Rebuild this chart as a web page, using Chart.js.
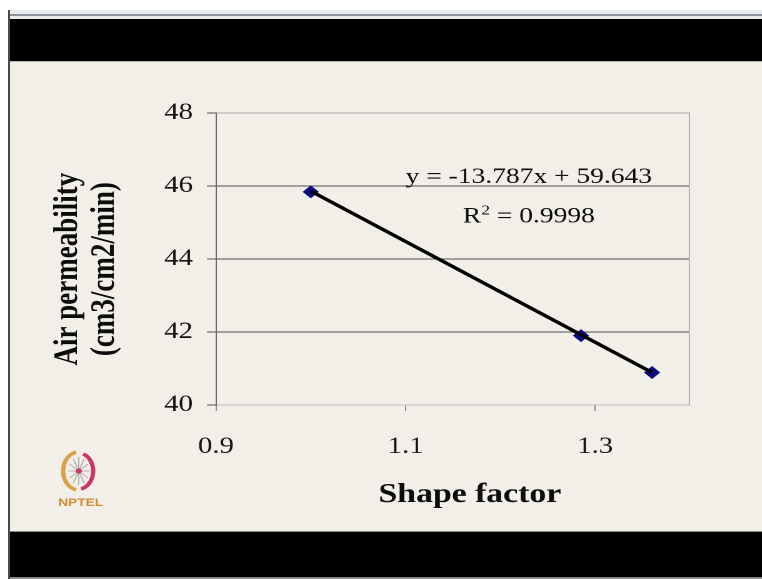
<!DOCTYPE html>
<html>
<head>
<meta charset="utf-8">
<script src="https://cdn.jsdelivr.net/npm/chart.js@4/dist/chart.umd.min.js"></script>
<style>
  html, body { margin: 0; padding: 0; background: #ffffff; }
  #page { position: relative; width: 762px; height: 579px; overflow: hidden; background: #ffffff; }
  .blk { position: absolute; }
  #wrap { position: absolute; left: 0; top: 0; width: 610px; height: 579px; transform: scaleX(1.25); transform-origin: 0 0; }
</style>
</head>
<body>
<div id="page">
  <div class="blk" style="left:10px;top:10px;width:752px;height:9px;background:#e9eaed;"></div>
  <div class="blk" style="left:10px;top:14px;width:752px;height:2px;background:#8d939c;"></div>
  <div class="blk" style="left:10px;top:19px;width:752px;height:42px;background:#000000;"></div>
  <div class="blk" style="left:10px;top:61px;width:752px;height:471px;background:#f2efe9;"></div>
  <div class="blk" style="left:10px;top:61px;width:752px;height:1px;background:#b9b6ae;"></div>
  <div class="blk" style="left:10px;top:531px;width:752px;height:1px;background:#8f8d88;"></div>
  <div class="blk" style="left:10px;top:532px;width:752px;height:45px;background:#000000;"></div>
  <div class="blk" style="left:10px;top:577px;width:752px;height:2px;background:#8a8a8a;"></div>
  <div class="blk" style="left:8px;top:10px;width:2px;height:569px;background:#4a4a4a;"></div>
  <div id="wrap"><canvas id="c" width="610" height="579"></canvas></div>
</div>
<script>
// ---- data ----
const xValues = [1.0, 1.285, 1.36];
const yValues = [45.84, 41.9, 40.89];
const trendX = [1.0, 1.36];
const trendY = [45.86, 40.89];
const xTicks = [0.9, 1.1, 1.3];
const yTicks = [40, 42, 44, 46, 48];
const equationText = 'y = -13.787x + 59.643';
const r2Value = '0.9998';
const xTitle = 'Shape factor';
const yTitle = ['Air permeability', '(cm3/cm2/min)'];

const SERIF = '"Liberation Serif", "Times New Roman", serif';

const points = xValues.map((x, i) => ({ x: x, y: yValues[i] }));
const trend = trendX.map((x, i) => ({ x: x, y: trendY[i] }));

const decorPlugin = {
  id: 'decor',
  afterDatasetsDraw(chart) {
    const ctx = chart.ctx;
    const a = chart.chartArea;
    const xs = chart.scales.x, ys = chart.scales.y;
    ctx.save();
    // right border of plot area
    ctx.strokeStyle = '#b0b0b0';
    ctx.lineWidth = 1;
    ctx.beginPath();
    ctx.moveTo(a.right - 0.5, a.top);
    ctx.lineTo(a.right - 0.5, a.bottom);
    ctx.stroke();

    // trendline label
    const cx = xs.getPixelForValue(1.23);
    ctx.fillStyle = '#0c0c0c';
    ctx.textBaseline = 'alphabetic';
    ctx.textAlign = 'center';
    ctx.font = '22px ' + SERIF;
    ctx.fillText(equationText, cx, ys.getPixelForValue(46.08));

    const yb = ys.getPixelForValue(45.0);
    ctx.textAlign = 'left';
    ctx.font = '22px ' + SERIF;
    const wR = ctx.measureText('R').width;
    const rest = ' = ' + r2Value;
    const wRest = ctx.measureText(rest).width;
    ctx.font = '14px ' + SERIF;
    const w2 = ctx.measureText('2').width;
    let sx = cx - (wR + w2 + wRest) / 2;
    ctx.font = '22px ' + SERIF;
    ctx.fillText('R', sx, yb);
    ctx.font = '14px ' + SERIF;
    ctx.fillText('2', sx + wR, yb - 8);
    ctx.font = '22px ' + SERIF;
    ctx.fillText(rest, sx + wR + w2, yb);

    // NPTEL logo
    const lx = 63, ly = 471, rx = 12.5, ry = 19;
    ctx.lineWidth = 3.5;
    ctx.strokeStyle = '#d9a24a';
    ctx.beginPath();
    ctx.ellipse(lx, ly, rx, ry, 0, Math.PI * 0.55, Math.PI * 1.45);
    ctx.stroke();
    ctx.strokeStyle = '#c8396a';
    ctx.beginPath();
    ctx.ellipse(lx, ly, rx - 1, ry - 1, 0, -Math.PI * 0.4, Math.PI * 0.45);
    ctx.stroke();
    ctx.strokeStyle = '#a8a0a0';
    ctx.lineWidth = 0.8;
    for (let k = 0; k < 12; k++) {
      const ang = k * Math.PI / 6;
      ctx.beginPath();
      ctx.moveTo(lx, ly);
      ctx.lineTo(lx + Math.cos(ang) * (rx - 4), ly + Math.sin(ang) * (ry - 5));
      ctx.stroke();
    }
    ctx.fillStyle = '#c8396a';
    ctx.beginPath();
    ctx.arc(lx, ly, 2.5, 0, Math.PI * 2);
    ctx.fill();
    ctx.fillStyle = '#d08a32';
    ctx.font = 'bold 11px "Liberation Sans", Arial, sans-serif';
    ctx.textAlign = 'center';
    ctx.fillText('NPTEL', 64.5, 506);
    ctx.restore();
  }
};

new Chart(document.getElementById('c'), {
  type: 'scatter',
  data: {
    datasets: [
      {
        label: 'trend',
        type: 'line',
        data: trend,
        borderColor: '#000000',
        borderWidth: 3.2,
        pointRadius: 0,
        fill: false,
        order: 0
      },
      {
        label: 'data',
        data: points,
        pointStyle: 'rectRot',
        pointRadius: 5.8,
        backgroundColor: '#0b0b82',
        borderColor: '#0b0b82',
        borderWidth: 1,
        order: 1
      }
    ]
  },
  plugins: [decorPlugin],
  options: {
    responsive: false,
    animation: false,
    devicePixelRatio: 2,
    layout: { padding: { top: 113, right: 58, bottom: 0, left: 0 } },
    plugins: { legend: { display: false }, tooltip: { enabled: false } },
    scales: {
      x: {
        type: 'linear',
        min: 0.9,
        max: 1.4,
        afterBuildTicks: s => { s.ticks = xTicks.map(v => ({ value: v })); },
        afterFit: s => { s.height = 174; },
        grid: { drawOnChartArea: false, drawTicks: true, tickLength: 6, tickColor: '#8a8a8a', color: '#8a8a8a' },
        border: { color: '#c0c0c0', width: 1 },
        ticks: {
          font: { family: SERIF, size: 23 },
          color: '#141414',
          padding: 22,
          maxRotation: 0,
          callback: v => Number(v).toFixed(1)
        },
        title: {
          display: true,
          text: '    ' + xTitle,
          color: '#0c0c0c',
          font: { family: SERIF, size: 27, weight: 'bold' },
          padding: { top: 0, bottom: 67.8 }
        }
      },
      y: {
        type: 'linear',
        min: 40,
        max: 48,
        afterBuildTicks: s => { s.ticks = yTicks.map(v => ({ value: v })); },
        afterFit: s => { s.width = 172.8; },
        grid: {
          color: c => (c.tick && (c.tick.value === 48)) ? '#a8a8a8' : (c.tick && c.tick.value === 40 ? '#c0c0c0' : '#4e4e4e'),
          tickColor: '#4e4e4e',
          tickLength: 7.2,
          drawTicks: true,
          lineWidth: 1
        },
        border: { color: '#666666', width: 1 },
        ticks: {
          font: { family: SERIF, size: 23 },
          color: '#141414',
          padding: 11.2
        },
        title: {
          display: true,
          text: yTitle.map(t => t + '   '),
          color: '#0c0c0c',
          font: { family: SERIF, size: 27, weight: 'bold', lineHeight: 1.1 },
          padding: { top: 39.55, bottom: 0 }
        }
      }
    }
  }
});
</script>
</body>
</html>
